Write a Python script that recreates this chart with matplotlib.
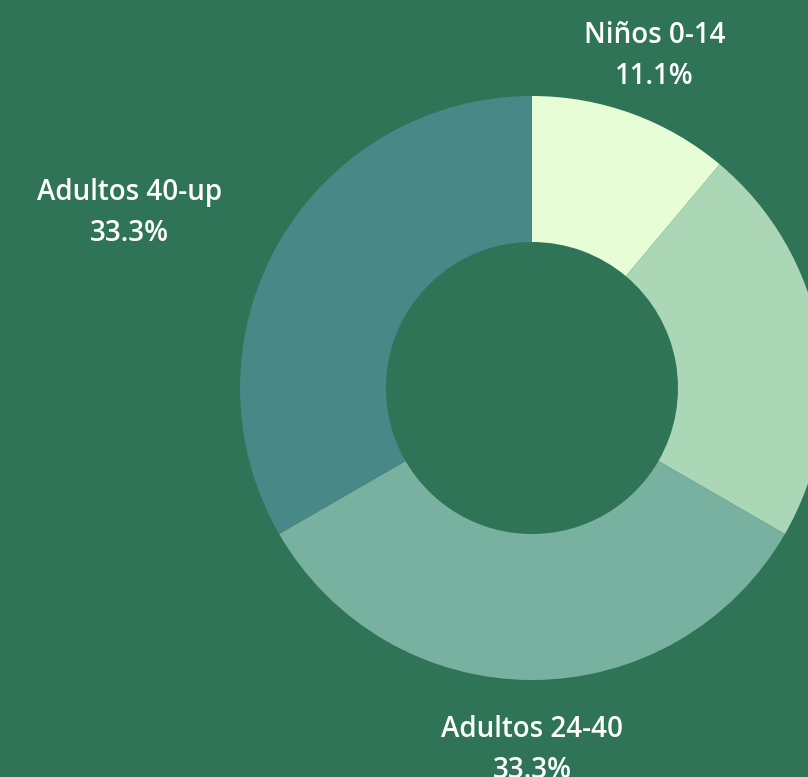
import numpy as np
import matplotlib
matplotlib.use("Agg")
import matplotlib.pyplot as plt

# datos del gráfico
grupos = ["Niños 0-14", "Jóvenes 15-23", "Adultos 24-40", "Adultos 40-up"]
porcentajes = [11.1, 22.2, 33.3, 33.3]
colores = ["#E6FDD6", "#ABD7B7", "#78B1A0", "#488886"]

FONDO = "#2F7456"
W, H = 808, 777
CX, CY = 532, H - 388
R = 292

fig = plt.figure(figsize=(W / 100, H / 100), dpi=100, facecolor=FONDO)
ax = fig.add_axes([0, 0, 1, 1])
ax.set_facecolor(FONDO)

wedges, _ = ax.pie(porcentajes, colors=colores, startangle=90, counterclock=False,
                   center=(CX, CY), radius=R, frame=True,
                   wedgeprops=dict(width=R / 2, linewidth=0))
ax.set_xlim(0, W)
ax.set_ylim(0, H)
ax.set_aspect("equal")
ax.axis("off")

# etiquetas fuera del anillo (la del sector derecho cae fuera del lienzo, como en el original)
total = sum(porcentajes)
for w, nombre, p in zip(wedges, grupos, porcentajes):
    ang = np.deg2rad((w.theta1 + w.theta2) / 2)
    x = CX + 1.225 * R * np.cos(ang)
    y = CY + 1.225 * R * np.sin(ang) - 4
    if x > W:
        continue
    c = np.cos(ang)
    ha = "center" if abs(c) < 0.5 else ("left" if c > 0 else "right")
    ax.text(x, y, f"{nombre}\n{p / total * 100:.1f}%", ha=ha, va="center",
            multialignment="center", color="white", fontsize=20,
            fontweight="semibold", family="Open Sans", linespacing=1.55)

fig.savefig("out.png", dpi=100, facecolor=FONDO)
